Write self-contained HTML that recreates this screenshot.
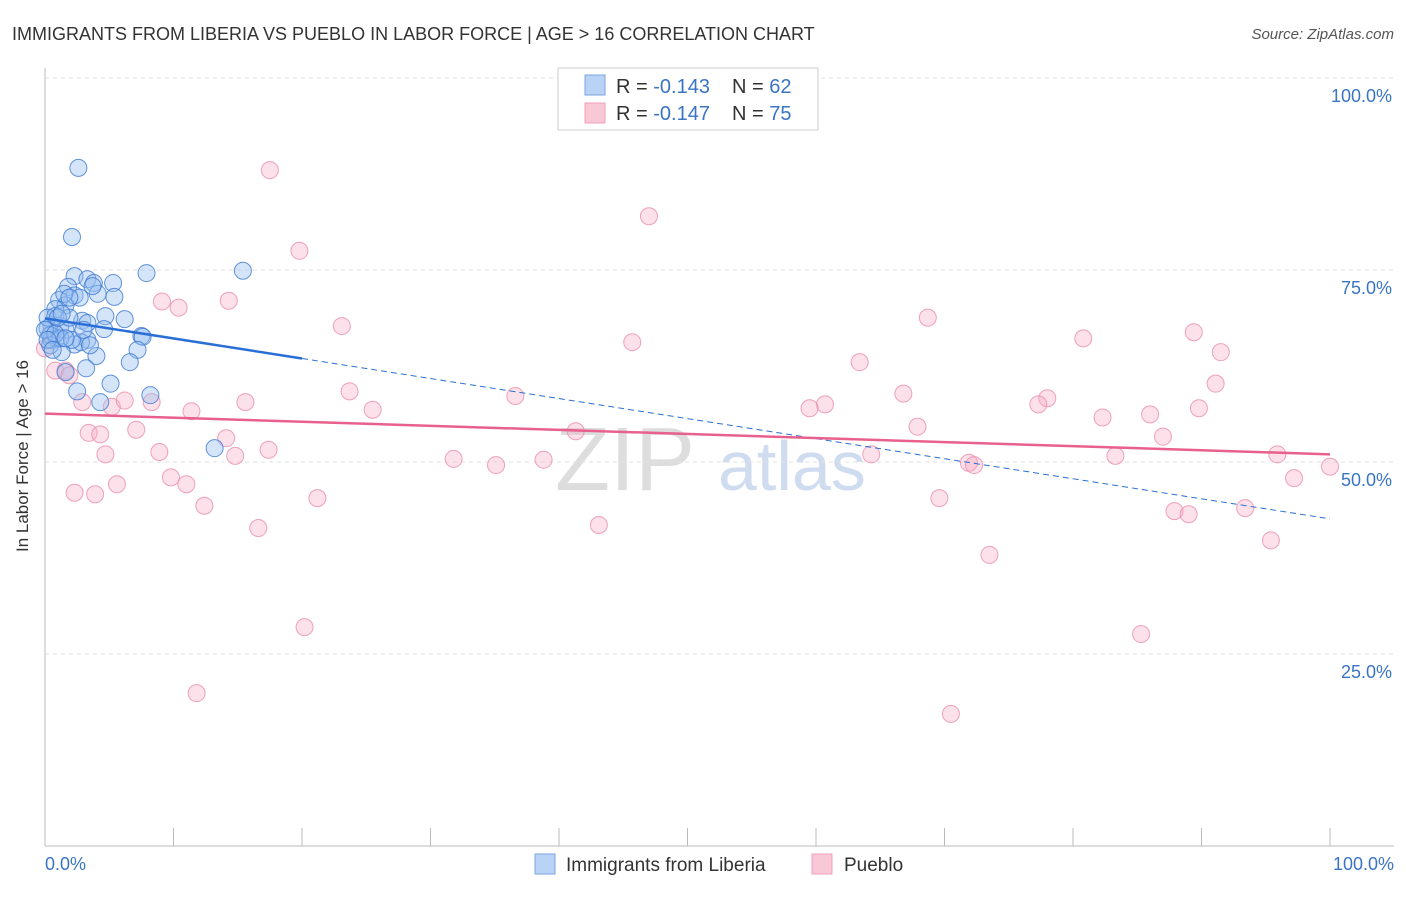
<!DOCTYPE html>
<html><head><meta charset="utf-8"><style>
body{margin:0;background:#fff;font-family:"Liberation Sans",sans-serif}
svg text{font-family:"Liberation Sans",sans-serif}
</style></head><body>
<svg id="c" width="1406" height="892">
<text x="12" y="40" font-size="18" fill="#333">IMMIGRANTS FROM LIBERIA VS PUEBLO IN LABOR FORCE | AGE &gt; 16 CORRELATION CHART</text>
<text x="1394" y="39" font-size="15" fill="#555" font-style="italic" text-anchor="end">Source: ZipAtlas.com</text>
<text x="28" y="456" font-size="17" fill="#333" text-anchor="middle" transform="rotate(-90 28 456)">In Labor Force | Age &gt; 16</text>
<text x="555" y="490" font-size="90" fill="#ddd" font-family="Liberation Serif">ZIP</text>
<text x="718" y="490" font-size="70" fill="#cfdcf0">atlas</text>
<g id="grid"></g><g id="pts"></g><g id="lines"></g>
<g>
<rect x="558" y="68" width="260" height="62" fill="#fff" stroke="#ccc"/>
<rect x="585" y="75" width="20" height="20" fill="#b8d3f5" stroke="#7aa5e0"/>
<rect x="585" y="103" width="20" height="20" fill="#f9c8d6" stroke="#eea0b8"/>
<text x="616" y="93" font-size="20" fill="#333">R = <tspan fill="#3a75c4">-0.143</tspan><tspan x="732">N = </tspan><tspan fill="#3a75c4">62</tspan></text>
<text x="616" y="120" font-size="20" fill="#333">R = <tspan fill="#3a75c4">-0.147</tspan><tspan x="732">N = </tspan><tspan fill="#3a75c4">75</tspan></text>
</g>
<g>
<rect x="535" y="854" width="20" height="20" fill="#b8d3f5" stroke="#7aa5e0"/>
<text x="566" y="871" font-size="19" fill="#333">Immigrants from Liberia</text>
<rect x="812" y="854" width="20" height="20" fill="#f9c8d6" stroke="#eea0b8"/>
<text x="844" y="871" font-size="19" fill="#333">Pueblo</text>
</g>
<text x="45" y="870" font-size="18" fill="#3a75c4">0.0%</text>
<text x="1394" y="870" font-size="18" fill="#3a75c4" text-anchor="end">100.0%</text>
</svg>
<script>
const blueX=[2.6,2.1,7.9,15.4,2.3,3.3,5.3,3.8,1.8,4.1,5.4,2.3,1.1,1.6,0.8,4.7,6.2,2.9,3.3,0.5,1.2,0.2,4.6,1.6,7.5,7.6,0.9,3.3,2.3,2.8,7.2,1.3,4.0,6.6,0.5,0.4,1.6,3.2,5.1,2.5,8.2,4.3,13.2,0.2,0.8,0.4,1.9,1.2,0.0,2.7,1.5,3.7,0.8,0.2,1.0,3.5,2.1,1.6,3.0,1.3,0.6,1.9];
const blueY=[88.3,79.3,74.6,74.9,74.2,73.8,73.3,73.3,72.8,71.9,71.5,71.7,71.1,70.4,69.9,69.0,68.6,68.4,68.1,67.8,67.7,67.4,67.3,67.2,66.4,66.3,66.1,65.9,65.3,65.6,64.6,64.3,63.8,63.0,65.9,66.5,61.7,62.2,60.2,59.2,58.7,57.8,51.8,68.8,69.0,65.2,68.8,66.1,67.2,71.4,71.9,72.9,66.7,65.9,68.8,65.2,65.9,66.1,67.2,69.3,64.6,71.4];
const pinkX=[17.5,47.0,19.8,9.1,10.4,14.3,23.1,68.7,45.7,80.8,89.4,91.5,63.4,0.8,1.6,1.9,23.7,66.8,91.1,78.0,77.3,36.6,60.7,59.5,82.3,86.0,89.8,2.9,5.2,6.2,8.3,11.4,15.6,25.5,67.9,41.3,87.0,7.1,3.4,4.3,14.1,83.3,64.3,71.9,72.3,4.7,8.9,17.4,14.8,31.8,35.1,38.8,95.9,100,9.8,11.0,5.6,2.3,3.9,12.4,21.2,69.6,97.2,87.9,89.0,93.4,16.6,43.1,95.4,73.5,20.2,85.3,11.8,70.5,0.0];
const pinkY=[88.0,82.0,77.5,70.9,70.1,71.0,67.7,68.8,65.6,66.1,66.9,64.3,63.0,61.9,61.9,61.3,59.2,58.9,60.2,58.3,57.5,58.6,57.5,57.0,55.8,56.2,57.0,57.8,57.2,58.0,57.8,56.6,57.8,56.8,54.6,54.0,53.3,54.2,53.8,53.6,53.1,50.8,51.0,49.9,49.6,51.0,51.3,51.6,50.8,50.4,49.6,50.3,51.0,49.4,48.0,47.1,47.1,46.0,45.8,44.3,45.3,45.3,47.9,43.6,43.2,44.0,41.4,41.8,39.8,37.9,28.5,27.6,19.9,17.2,64.8];
const yTicks=[25,50,75,100];
const yTickLabels=["25.0%","50.0%","75.0%","100.0%"];
const blueTrend=[68.7,42.6], pinkTrend=[56.3,51.0];
const NS='http://www.w3.org/2000/svg';
const sx=v=>45+v*12.85, sy=v=>846-v*7.68;
function mk(t,a,p){const e=document.createElementNS(NS,t);for(const k in a)e.setAttribute(k,a[k]);p.appendChild(e);return e;}
const g=document.getElementById('grid');
yTicks.forEach((t,i)=>{
  const l=mk('line',{x1:45,x2:1394,y1:sy(t),y2:sy(t),stroke:'#e2e2e2','stroke-dasharray':'4,4'},g);
  
  
  const tx=mk('text',{x:1392,y:sy(t)+24,'font-size':18,fill:'#3a75c4','text-anchor':'end'},g);
  tx.textContent=yTickLabels[i];
  
  
});
mk('line',{x1:45,x2:45,y1:68,y2:846,stroke:'#bbb'},g);
mk('line',{x1:45,x2:1394,y1:846,y2:846,stroke:'#bbb'},g);
for(let i=0;i<=10;i++){const x=sx(i*10);const t=mk('line',{x1:x,x2:x,y1:828,y2:846,stroke:'#bbb'},g);
  
  }
const p=document.getElementById('pts');
pinkX.forEach((x,i)=>{const c=mk('circle',{cx:sx(x),cy:sy(pinkY[i]),r:8.5,fill:'rgba(245,170,195,0.35)',stroke:'rgba(235,140,170,0.8)','stroke-width':1},p);
  
  });
blueX.forEach((x,i)=>{const c=mk('circle',{cx:sx(x),cy:sy(blueY[i]),r:8.5,fill:'rgba(150,190,240,0.4)',stroke:'rgba(60,120,210,0.8)','stroke-width':1},p);
  
  });
const L=document.getElementById('lines');
const by=x=>blueTrend[0]+(blueTrend[1]-blueTrend[0])*x/100;
let a=mk('line',{x1:sx(0),y1:sy(by(0)),x2:sx(20),y2:sy(by(20)),stroke:'#2a6fd6','stroke-width':2.5},L);


a=mk('line',{x1:sx(20),y1:sy(by(20)),x2:sx(100),y2:sy(by(100)),stroke:'#2a6fd6','stroke-width':1,'stroke-dasharray':'6,4'},L);


a=mk('line',{x1:sx(0),y1:sy(pinkTrend[0]),x2:sx(100),y2:sy(pinkTrend[1]),stroke:'#e8608c','stroke-width':2.5},L);


</script>
</body></html>
